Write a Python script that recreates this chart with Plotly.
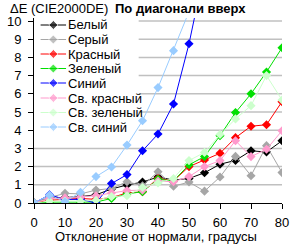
import plotly.graph_objects as go

angles = [0, 5, 10, 15, 20, 25, 30, 35, 40, 45, 50, 55, 60, 65, 70, 75, 80]

white_de = [0, 0.3, 0.3, 0.35, 0.45, 0.77, 0.99, 1.15, 1.43, 1.26, 1.35, 1.66, 2.13, 2.34, 2.87, 2.8, 3.42]
grey_de = [0, 0.3, 0.53, 0.5, 0.71, 0.8, 1.17, 0.95, 1.72, 0.92, 1.15, 0.65, 1.43, 2.56, 1.5, 3.15, 1.67]
red_de = [0, 0.15, 0.2, 0.25, 0.2, 0.3, 0.55, 0.62, 1.35, 1.22, 2.0, 2.36, 2.73, 3.59, 4.22, 4.3, 5.57]
green_de = [0, 0.05, 0.05, 0.05, 0.05, 0.25, 0.5, 0.62, 1.3, 1.22, 2.1, 2.55, 3.7, 4.97, 6.0, 7.2, 8.53]
blue_de = [0, 0.45, 0.2, 0.2, 0.0, 1.07, 1.56, 2.87, 3.79, 5.44, 8.75, 12.8, None, None, None, None, None]
lred_de = [0, 0.25, 0.28, 0.32, 0.4, 0.55, 0.68, 0.71, 1.2, 1.17, 1.45, 2.0, 2.33, 3.42, 2.55, 2.95, 3.97]
lgreen_de = [0, 0.1, 0.1, 0.1, 0.15, 0.35, 0.4, 0.85, 1.1, 1.35, 2.33, 2.78, 3.76, 4.62, 5.35, 7.0, 5.66]
lblue_de = [0, 0.44, 0.07, 0.59, 1.45, 1.98, 3.18, 4.52, 6.34, 8.37, 10.5, 12.6, None, None, None, None, None]

names = ["Белый", "Серый", "Красный", "Зеленый", "Синий", "Св. красный", "Св. зеленый", "Св. синий"]
colors = ["#000000", "#a6a6a6", "#ff0000", "#00e000", "#0000ff", "#ff99cc", "#ccffcc", "#99ccff"]
series = [white_de, grey_de, red_de, green_de, blue_de, lred_de, lgreen_de, lblue_de]

yticks = list(range(0, 11))
xticks = list(range(0, 81, 10))

FONT = "Liberation Sans, Arial, sans-serif"
FS = 13
W, H = 296, 244
ML, MR, MT, MB = 26, 7, 18, 41
plot_w = W - ML - MR
plot_h = H - MT - MB
ymax = plot_h / 18.2


def px2x(px):
    return (px - ML) / plot_w * 80


def py2y(py):
    return (H - MB - py) / plot_h * ymax


def py2paper(py):
    return (H - MB - py) / plot_h


def px2paper(px):
    return (px - ML) / plot_w


fig = go.Figure()

# gridlines (interrupted by the legend box on the left)
legend_right_px, legend_bottom_px = 137, 136
for t in yticks[1:]:
    x_start = px2x(legend_right_px) if t > py2y(legend_bottom_px) else 0
    fig.add_shape(type="line", xref="x", yref="y", x0=x_start, x1=80, y0=t, y1=t,
                  line=dict(color="#c0c0c0", width=1.5), layer="below")

for nm, col, ys in zip(names, colors, series):
    fig.add_trace(go.Scatter(
        x=angles, y=ys, mode="lines+markers", name=nm,
        line=dict(color=col, width=1),
        marker=dict(symbol="diamond", size=7, color=col),
        connectgaps=False, showlegend=False, cliponaxis=True,
    ))

# manual legend (pixel coordinate overlay axis)
leg_y = [25, 39.5, 54, 68.5, 83, 98, 112.5, 127]
for nm, col, yy in zip(names, colors, leg_y):
    fig.add_trace(go.Scatter(
        x=[33, 46.5, 60], y=[yy, yy, yy], mode="lines+markers",
        xaxis="x2", yaxis="y2", showlegend=False, hoverinfo="skip",
        line=dict(color=col, width=1),
        marker=dict(symbol="diamond", size=[0, 7, 0], color=col),
        cliponaxis=False,
    ))
    fig.add_annotation(x=px2paper(61), y=py2paper(yy), xref="paper", yref="paper",
                       text=nm, showarrow=False, xanchor="left", yanchor="middle",
                       borderpad=0, font=dict(family=FONT, size=FS, color="#000"))

fig.update_layout(
    width=W, height=H,
    margin=dict(l=ML, r=MR, t=MT, b=MB, pad=0),
    paper_bgcolor="white", plot_bgcolor="white",
    font=dict(family=FONT, size=FS, color="#000"),
    xaxis=dict(range=[0, 80], tickvals=xticks, ticks="outside", ticklen=5,
               tickcolor="#000", showline=True, linecolor="#000", linewidth=1,
               showgrid=False, zeroline=False, tickfont=dict(size=FS),
               ticklabelstandoff=2, ticklabeloverflow="allow"),
    yaxis=dict(range=[0, ymax], tickvals=yticks, ticks="outside", ticklen=5,
               tickcolor="#000", showline=True, linecolor="#000", linewidth=1,
               showgrid=False, zeroline=False,
               tickfont=dict(size=FS), ticklabelstandoff=4, ticklabeloverflow="allow"),
    xaxis2=dict(range=[ML, W - MR], overlaying="x", visible=False, fixedrange=True),
    yaxis2=dict(range=[H - MB, MT], overlaying="y", anchor="x2", visible=False, fixedrange=True),
    showlegend=False,
)

fig.add_annotation(x=px2paper(0), y=py2paper(8.5), xref="paper", yref="paper",
                   text="ΔE (CIE2000DE)", showarrow=False, xanchor="left", yanchor="middle",
                   borderpad=0, font=dict(family=FONT, size=FS))
fig.add_annotation(x=px2paper(181.5), y=py2paper(8.5), xref="paper", yref="paper",
                   text="<b>По диагонали вверх</b>",
                   showarrow=False, xanchor="center", yanchor="middle",
                   borderpad=0, font=dict(family=FONT, size=FS))
fig.add_annotation(x=px2paper(155), y=py2paper(236), xref="paper", yref="paper",
                   text="Отклонение от нормали, градусы",
                   showarrow=False, xanchor="center", yanchor="middle",
                   borderpad=0, font=dict(family=FONT, size=FS))

fig.write_html("out.html")
